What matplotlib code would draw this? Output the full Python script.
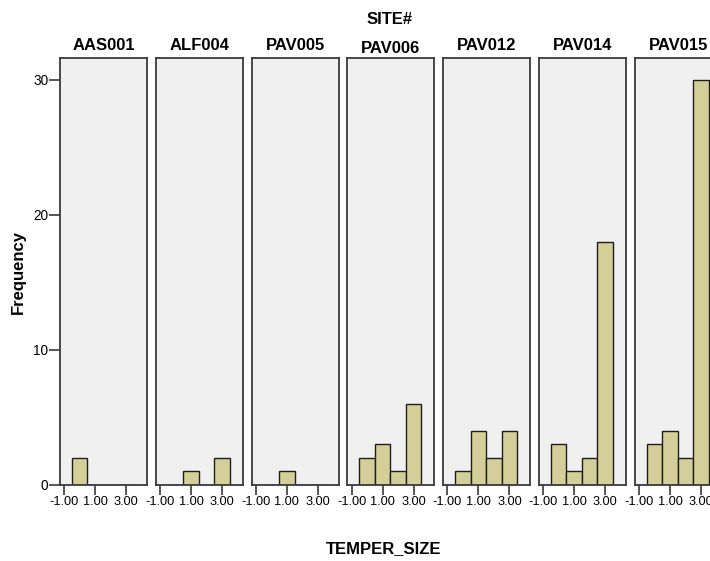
import matplotlib.pyplot as plt

# dados (frequencia por TEMPER_SIZE, em cada SITE#)
sites = ['AAS001', 'ALF004', 'PAV005', 'PAV006', 'PAV012', 'PAV014', 'PAV015']
temper_size = [0, 1, 2, 3]
freq_aas001 = [2, 0, 0, 0]
freq_alf004 = [0, 1, 0, 2]
freq_pav005 = [0, 1, 0, 0]
freq_pav006 = [2, 3, 1, 6]
freq_pav012 = [1, 4, 2, 4]
freq_pav014 = [3, 1, 2, 18]
freq_pav015 = [3, 4, 2, 30]
frequencias = [freq_aas001, freq_alf004, freq_pav005, freq_pav006,
               freq_pav012, freq_pav014, freq_pav015]

x_ticks = [-1, 1, 3]
x_labels = ['-1.00', '1.00', '3.00']
y_ticks = [0, 10, 20, 30]

plt.rcParams['font.family'] = ['Liberation Sans', 'DejaVu Sans']

W, H = 710, 561
fig = plt.figure(figsize=(W / 100, H / 100), dpi=100)

cor_barra = '#D4CF98'
cor_fundo = '#F0F0F0'
cor_borda = '#3A3A3A'

esq0 = 60
passo = 95.8
larg = 87
base = 561 - 485
alt = 427

for i, (site, freq) in enumerate(zip(sites, frequencias)):
    ax = fig.add_axes([(esq0 + i * passo) / W, base / H, larg / W, alt / H])
    ax.set_facecolor(cor_fundo)
    ax.bar(temper_size, freq, width=1.0, color=cor_barra,
           edgecolor='#1E1E1E', linewidth=1.0)
    ax.set_xlim(-1.27, 4.34)
    ax.set_ylim(0, 31.6)
    for s in ax.spines.values():
        s.set_color(cor_borda)
        s.set_linewidth(1.3)
    ax.set_xticks(x_ticks)
    ax.set_xticklabels(x_labels, fontsize=9.2)
    ax.tick_params(axis='x', length=7, width=1.2, color=cor_borda, pad=1)
    if i == 0:
        ax.set_yticks(y_ticks)
        ax.tick_params(axis='y', length=8, width=1.2, color=cor_borda,
                       labelsize=9.8, pad=0.5)
    else:
        ax.set_yticks([])
    ty = 1.012 if site != 'PAV006' else 1.004
    ax.text(0.5, ty, site, transform=ax.transAxes, ha='center', va='bottom',
            fontsize=12, fontweight='bold')

fig.text(390 / W, 1 - 20 / H, 'SITE#', ha='center', va='center',
         fontsize=12, fontweight='bold')
fig.text(384 / W, 1 - 549 / H, 'TEMPER_SIZE', ha='center', va='center',
         fontsize=12, fontweight='bold')
fig.text(18 / W, 1 - 272 / H, 'Frequency', ha='center', va='center',
         rotation=90, fontsize=12, fontweight='bold')

fig.savefig('out.png', dpi=100, facecolor='white')
